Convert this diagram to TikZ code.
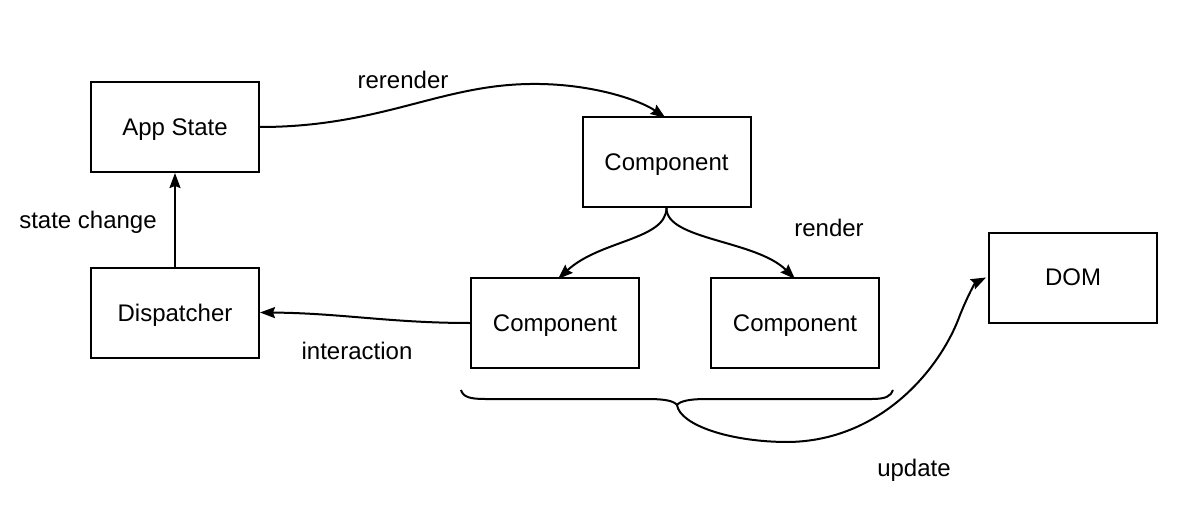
\documentclass[tikz,border=0pt]{standalone}
\usepackage{fontspec}
\setmainfont{Liberation Sans}
\usetikzlibrary{arrows.meta}
\begin{document}
\begin{tikzpicture}[x=1pt,y=-1pt,
  box/.style={draw,line width=2pt,minimum width=168pt,minimum height=90pt,inner sep=0pt,text depth=0pt,font=\fontsize{24}{28}\selectfont},
  lbl/.style={font=\fontsize{24}{28}\selectfont,inner sep=0pt,text depth=0pt},
  conn/.style={line width=2pt,-{Stealth[length=15pt,width=11pt,inset=2pt]}},
  line/.style={line width=2pt}]
\useasboundingbox (0,0) rectangle (1184,527);
\node[box] (as) at (175,127) {App State};
\node[box] (ct) at (666.5,162) {Component};
\node[box] (dp) at (175,312.5) {Dispatcher};
\node[box] (cl) at (555,323) {Component};
\node[box] (cr) at (795,323) {Component};
\node[box] (dom) at (1073,277.5) {DOM};
\node[lbl] (l1) at (403,80) {rerender};
\node[lbl] (l2) at (88,220) {state change};
\node[lbl] (l3) at (829,228) {render};
\node[lbl] (l4) at (357,351) {interaction};
\node[lbl] (l5) at (914,468) {update};
\coordinate (cusp) at (677,405);
\draw[conn] (as.east) .. controls (380,127) and (440,85) .. (530,84) .. controls (590,83) and (640,100) .. ([xshift=-1pt,yshift=-2pt]ct.north);
\draw[conn] (ct.south) .. controls (666,240) and (600,240) .. ([xshift=3pt,yshift=-2pt]cl.north);
\draw[conn] (ct.south) .. controls (666,240) and (756,240) .. ([xshift=0pt,yshift=-2pt]cr.north);
\draw[conn] (dp.north) -- (as.south);
\draw[conn] (cl.west) .. controls (390,323) and (340,313) .. (dp.east);
\draw[line] (461,390) .. controls (463,397) and (470,399) .. (485,399) -- (648,399) .. controls (665,399) and (674,401) .. (cusp)
  .. controls (680,401) and (690,399) .. (706,399) -- (872,399) .. controls (886,399) and (891,396) .. (893,390);
\draw[conn] (cusp) .. controls (680,425) and (730,442) .. (788,442) .. controls (880,441) and (940,370) .. (960,315) .. controls (968,295) and (975,283) .. ([xshift=-2pt]dom.west);
\end{tikzpicture}
\end{document}
